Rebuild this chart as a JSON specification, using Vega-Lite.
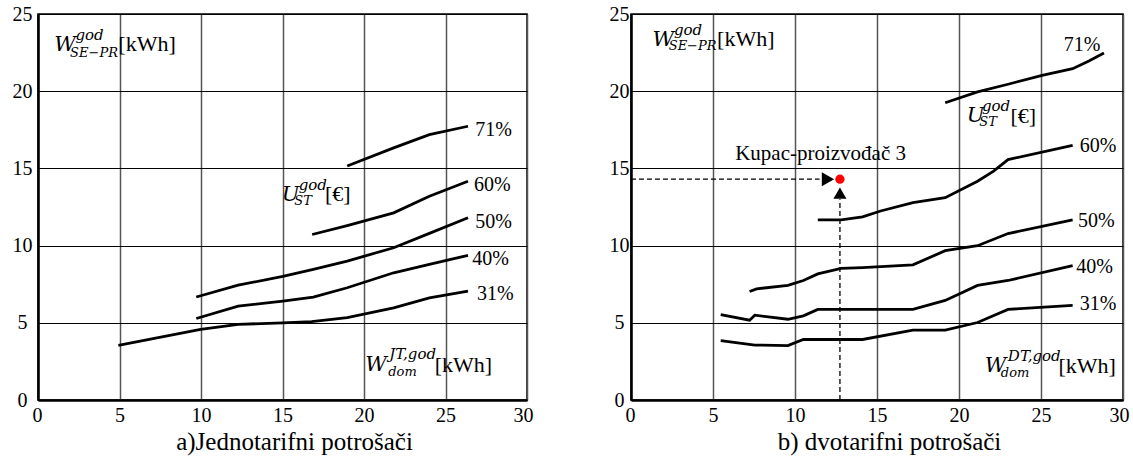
{
  "$schema": "https://vega.github.io/schema/vega-lite/v6.json",
  "background": "white",
  "padding": {"left": 11, "top": 3, "right": 5, "bottom": 2},
  "spacing": 74,
  "config": {
    "view": {"stroke": "black", "strokeWidth": 1.5},
    "axis": {
      "labelFont": "Liberation Serif", "labelFontSize": 20, "labelColor": "black",
      "titleFont": "Liberation Serif", "titleFontSize": 25, "titleFontWeight": "normal", "titleColor": "black",
      "ticks": false, "tickSize": 0, "domainColor": "black", "domainWidth": 2.5,
      "labelOverlap": false
    },
    "axisX": {"gridColor": "#555", "gridWidth": 1.5, "gridOpacity": 1, "labelPadding": 5, "titlePadding": 4, "labelFlush": true, "labelFlushOffset": 6},
    "axisY": {"gridColor": "black", "gridWidth": 1, "gridOpacity": 1, "labelAlign": "center", "labelBaseline": "middle", "labelFlush": false}
  },
  "datasets": {
    "curvesA": [
      {"series": "31%", "x": 4.93, "y": 3.54}, {"series": "31%", "x": 9.98, "y": 4.57}, {"series": "31%", "x": 12.28, "y": 4.9}, {"series": "31%", "x": 15.02, "y": 5.0}, {"series": "31%", "x": 16.78, "y": 5.07}, {"series": "31%", "x": 18.97, "y": 5.33}, {"series": "31%", "x": 21.82, "y": 5.97}, {"series": "31%", "x": 24.01, "y": 6.62}, {"series": "31%", "x": 26.38, "y": 7.05},
      {"series": "40%", "x": 9.71, "y": 5.28}, {"series": "40%", "x": 12.28, "y": 6.08}, {"series": "40%", "x": 15.02, "y": 6.41}, {"series": "40%", "x": 16.89, "y": 6.67}, {"series": "40%", "x": 18.97, "y": 7.27}, {"series": "40%", "x": 21.82, "y": 8.24}, {"series": "40%", "x": 24.01, "y": 8.78}, {"series": "40%", "x": 26.38, "y": 9.36},
      {"series": "50%", "x": 9.71, "y": 6.67}, {"series": "50%", "x": 12.28, "y": 7.44}, {"series": "50%", "x": 15.02, "y": 8.0}, {"series": "50%", "x": 16.89, "y": 8.46}, {"series": "50%", "x": 18.97, "y": 9.0}, {"series": "50%", "x": 21.82, "y": 9.86}, {"series": "50%", "x": 24.01, "y": 10.79}, {"series": "50%", "x": 26.38, "y": 11.8},
      {"series": "60%", "x": 16.82, "y": 10.72}, {"series": "60%", "x": 18.97, "y": 11.3}, {"series": "60%", "x": 21.82, "y": 12.12}, {"series": "60%", "x": 24.01, "y": 13.2}, {"series": "60%", "x": 26.38, "y": 14.17},
      {"series": "71%", "x": 18.97, "y": 15.16}, {"series": "71%", "x": 21.82, "y": 16.33}, {"series": "71%", "x": 24.01, "y": 17.19}, {"series": "71%", "x": 26.38, "y": 17.73}
    ],
    "pctA": [
      {"text": "71%", "x": 26.82, "y": 17.5}, {"text": "60%", "x": 26.75, "y": 13.91}, {"text": "50%", "x": 26.82, "y": 11.52}, {"text": "40%", "x": 26.64, "y": 9.15}, {"text": "31%", "x": 26.93, "y": 6.84}
    ],
    "notesA": [
      {"part": "main", "text": "W", "x": 0.99, "y": 22.63}, {"part": "sup", "text": "god", "x": 2.3, "y": 23.34}, {"part": "sub", "text": "SE−PR", "x": 1.97, "y": 22.2}, {"part": "unit", "text": "[kWh]", "x": 4.93, "y": 22.63},
      {"part": "main", "text": "U", "x": 14.96, "y": 12.92}, {"part": "sup", "text": "god", "x": 15.99, "y": 13.59}, {"part": "sub", "text": "ST", "x": 15.72, "y": 12.62}, {"part": "unit", "text": "[€]", "x": 17.61, "y": 12.88},
      {"part": "main", "text": "W", "x": 20.07, "y": 1.88}, {"part": "sup", "text": "JT,god", "x": 21.55, "y": 2.63}, {"part": "sub", "text": "dom", "x": 21.49, "y": 1.55}, {"part": "unit", "text": "[kWh]", "x": 24.34, "y": 1.83}
    ],
    "curvesB": [
      {"series": "31%", "x": 5.47, "y": 3.84}, {"series": "31%", "x": 7.55, "y": 3.56}, {"series": "31%", "x": 9.57, "y": 3.52}, {"series": "31%", "x": 10.51, "y": 3.92}, {"series": "31%", "x": 14.12, "y": 3.92}, {"series": "31%", "x": 17.19, "y": 4.52}, {"series": "31%", "x": 19.16, "y": 4.52}, {"series": "31%", "x": 21.13, "y": 5.02}, {"series": "31%", "x": 22.99, "y": 5.87}, {"series": "31%", "x": 26.93, "y": 6.13},
      {"series": "40%", "x": 5.47, "y": 5.53}, {"series": "40%", "x": 7.23, "y": 5.17}, {"series": "40%", "x": 7.55, "y": 5.49}, {"series": "40%", "x": 9.57, "y": 5.23}, {"series": "40%", "x": 10.51, "y": 5.45}, {"series": "40%", "x": 11.39, "y": 5.87}, {"series": "40%", "x": 17.19, "y": 5.87}, {"series": "40%", "x": 19.16, "y": 6.45}, {"series": "40%", "x": 21.13, "y": 7.42}, {"series": "40%", "x": 22.99, "y": 7.74}, {"series": "40%", "x": 26.93, "y": 8.7},
      {"series": "50%", "x": 7.23, "y": 7.03}, {"series": "50%", "x": 7.66, "y": 7.2}, {"series": "50%", "x": 9.57, "y": 7.42}, {"series": "50%", "x": 10.51, "y": 7.74}, {"series": "50%", "x": 11.39, "y": 8.17}, {"series": "50%", "x": 12.81, "y": 8.53}, {"series": "50%", "x": 14.12, "y": 8.58}, {"series": "50%", "x": 17.19, "y": 8.75}, {"series": "50%", "x": 19.16, "y": 9.67}, {"series": "50%", "x": 21.13, "y": 9.99}, {"series": "50%", "x": 22.99, "y": 10.78}, {"series": "50%", "x": 26.93, "y": 11.66},
      {"series": "60%", "x": 11.39, "y": 11.66}, {"series": "60%", "x": 12.81, "y": 11.66}, {"series": "60%", "x": 14.12, "y": 11.86}, {"series": "60%", "x": 15.22, "y": 12.24}, {"series": "60%", "x": 17.19, "y": 12.78}, {"series": "60%", "x": 19.16, "y": 13.1}, {"series": "60%", "x": 21.13, "y": 14.17}, {"series": "60%", "x": 22.11, "y": 14.82}, {"series": "60%", "x": 22.99, "y": 15.57}, {"series": "60%", "x": 26.93, "y": 16.49},
      {"series": "71%", "x": 19.16, "y": 19.25}, {"series": "71%", "x": 21.13, "y": 19.96}, {"series": "71%", "x": 22.99, "y": 20.45}, {"series": "71%", "x": 25.07, "y": 21.03}, {"series": "71%", "x": 26.93, "y": 21.46}, {"series": "71%", "x": 27.92, "y": 21.96}, {"series": "71%", "x": 28.84, "y": 22.47}
    ],
    "pctB": [
      {"text": "71%", "x": 26.38, "y": 22.96}, {"text": "60%", "x": 27.37, "y": 16.42}, {"text": "50%", "x": 27.26, "y": 11.6}, {"text": "40%", "x": 27.15, "y": 8.64}, {"text": "31%", "x": 27.37, "y": 6.24}
    ],
    "notesB": [
      {"part": "main", "text": "W", "x": 1.31, "y": 22.9}, {"part": "sup", "text": "god", "x": 2.62, "y": 23.65}, {"part": "sub", "text": "SE−PR", "x": 2.3, "y": 22.64}, {"part": "unit", "text": "[kWh]", "x": 5.25, "y": 22.9},
      {"part": "main", "text": "U", "x": 20.47, "y": 18.03}, {"part": "sup", "text": "god", "x": 21.4, "y": 18.74}, {"part": "sub", "text": "ST", "x": 21.24, "y": 17.75}, {"part": "unit", "text": "[€]", "x": 23.14, "y": 17.92},
      {"part": "main", "text": "W", "x": 21.57, "y": 1.8}, {"part": "sup", "text": "DT,god", "x": 22.98, "y": 2.53}, {"part": "sub", "text": "dom", "x": 22.55, "y": 1.52}, {"part": "unit", "text": "[kWh]", "x": 26.06, "y": 1.74},
      {"part": "label", "text": "Kupac-proizvođač 3", "x": 6.35, "y": 15.57}
    ],
    "markersB": [
      {"kind": "arrowRight", "x": 12.01, "y": 14.3},
      {"kind": "arrowUp", "x": 12.74, "y": 13.4},
      {"kind": "point", "x": 12.74, "y": 14.3}
    ],
    "guidesB": [
      {"x": 0, "y": 14.3, "x2": 11.5, "y2": 14.3},
      {"x": 12.74, "y": 0, "x2": 12.74, "y2": 13.0}
    ]
  },
  "hconcat": [
    {
      "width": 489,
      "height": 386,
      "encoding": {
        "x": {"field": "x", "type": "quantitative", "scale": {"domain": [0, 30], "nice": false},
              "axis": {"values": [0, 5, 10, 15, 20, 25, 30], "title": "a)Jednotarifni potrošači", "titleX": 256, "titleAnchor": "middle"}},
        "y": {"field": "y", "type": "quantitative", "scale": {"domain": [0, 25], "nice": false},
              "axis": {"values": [0, 5, 10, 15, 20, 25], "title": null, "labelPadding": 16}}
      },
      "layer": [
        {"data": {"name": "curvesA"}, "mark": {"type": "line", "color": "black", "strokeWidth": 2.8},
         "encoding": {"detail": {"field": "series"}}},
        {"data": {"name": "pctA"}, "mark": {"type": "text", "align": "left", "baseline": "middle", "font": "Liberation Serif", "fontSize": 20, "color": "black"},
         "encoding": {"text": {"field": "text"}}},
        {"data": {"name": "notesA"}, "transform": [{"filter": "datum.part === 'main'"}],
         "mark": {"type": "text", "align": "left", "baseline": "alphabetic", "font": "DejaVu Serif", "fontStyle": "italic", "fontSize": 21, "color": "black"},
         "encoding": {"text": {"field": "text"}}},
        {"data": {"name": "notesA"}, "transform": [{"filter": "datum.part === 'sup'"}],
         "mark": {"type": "text", "align": "left", "baseline": "alphabetic", "font": "DejaVu Serif", "fontStyle": "italic", "fontSize": 15, "color": "black"},
         "encoding": {"text": {"field": "text"}}},
        {"data": {"name": "notesA"}, "transform": [{"filter": "datum.part === 'sub'"}],
         "mark": {"type": "text", "align": "left", "baseline": "alphabetic", "font": "DejaVu Serif", "fontStyle": "italic", "fontSize": 13, "color": "black"},
         "encoding": {"text": {"field": "text"}}},
        {"data": {"name": "notesA"}, "transform": [{"filter": "datum.part === 'unit'"}],
         "mark": {"type": "text", "align": "left", "baseline": "alphabetic", "font": "Liberation Serif", "fontSize": 22, "color": "black"},
         "encoding": {"text": {"field": "text"}}}
      ]
    },
    {
      "width": 492,
      "height": 386,
      "encoding": {
        "x": {"field": "x", "type": "quantitative", "scale": {"domain": [0, 30], "nice": false},
              "axis": {"values": [0, 5, 10, 15, 20, 25, 30], "title": "b) dvotarifni potrošači", "titleX": 258, "titleAnchor": "middle"}},
        "y": {"field": "y", "type": "quantitative", "scale": {"domain": [0, 25], "nice": false},
              "axis": {"values": [0, 5, 10, 15, 20, 25], "title": null, "labelPadding": 12}}
      },
      "layer": [
        {"data": {"name": "guidesB"}, "mark": {"type": "rule", "color": "black", "strokeWidth": 1.3, "strokeDash": [5, 3]},
         "encoding": {"x2": {"field": "x2"}, "y2": {"field": "y2"}}},
        {"data": {"name": "curvesB"}, "mark": {"type": "line", "color": "black", "strokeWidth": 2.8},
         "encoding": {"detail": {"field": "series"}}},
        {"data": {"name": "pctB"}, "mark": {"type": "text", "align": "left", "baseline": "middle", "font": "Liberation Serif", "fontSize": 20, "color": "black"},
         "encoding": {"text": {"field": "text"}}},
        {"data": {"name": "markersB"}, "transform": [{"filter": "datum.kind === 'arrowRight'"}],
         "mark": {"type": "point", "shape": "triangle-right", "filled": true, "color": "black", "size": 200, "opacity": 1}},
        {"data": {"name": "markersB"}, "transform": [{"filter": "datum.kind === 'arrowUp'"}],
         "mark": {"type": "point", "shape": "triangle-up", "filled": true, "color": "black", "size": 170, "opacity": 1}},
        {"data": {"name": "markersB"}, "transform": [{"filter": "datum.kind === 'point'"}],
         "mark": {"type": "point", "shape": "circle", "filled": true, "color": "red", "size": 85, "opacity": 1}},
        {"data": {"name": "notesB"}, "transform": [{"filter": "datum.part === 'main'"}],
         "mark": {"type": "text", "align": "left", "baseline": "alphabetic", "font": "DejaVu Serif", "fontStyle": "italic", "fontSize": 21, "color": "black"},
         "encoding": {"text": {"field": "text"}}},
        {"data": {"name": "notesB"}, "transform": [{"filter": "datum.part === 'sup'"}],
         "mark": {"type": "text", "align": "left", "baseline": "alphabetic", "font": "DejaVu Serif", "fontStyle": "italic", "fontSize": 15, "color": "black"},
         "encoding": {"text": {"field": "text"}}},
        {"data": {"name": "notesB"}, "transform": [{"filter": "datum.part === 'sub'"}],
         "mark": {"type": "text", "align": "left", "baseline": "alphabetic", "font": "DejaVu Serif", "fontStyle": "italic", "fontSize": 13, "color": "black"},
         "encoding": {"text": {"field": "text"}}},
        {"data": {"name": "notesB"}, "transform": [{"filter": "datum.part === 'unit'"}],
         "mark": {"type": "text", "align": "left", "baseline": "alphabetic", "font": "Liberation Serif", "fontSize": 22, "color": "black"},
         "encoding": {"text": {"field": "text"}}},
        {"data": {"name": "notesB"}, "transform": [{"filter": "datum.part === 'label'"}],
         "mark": {"type": "text", "align": "left", "baseline": "alphabetic", "font": "Liberation Serif", "fontSize": 21, "color": "black"},
         "encoding": {"text": {"field": "text"}}}
      ]
    }
  ]
}
